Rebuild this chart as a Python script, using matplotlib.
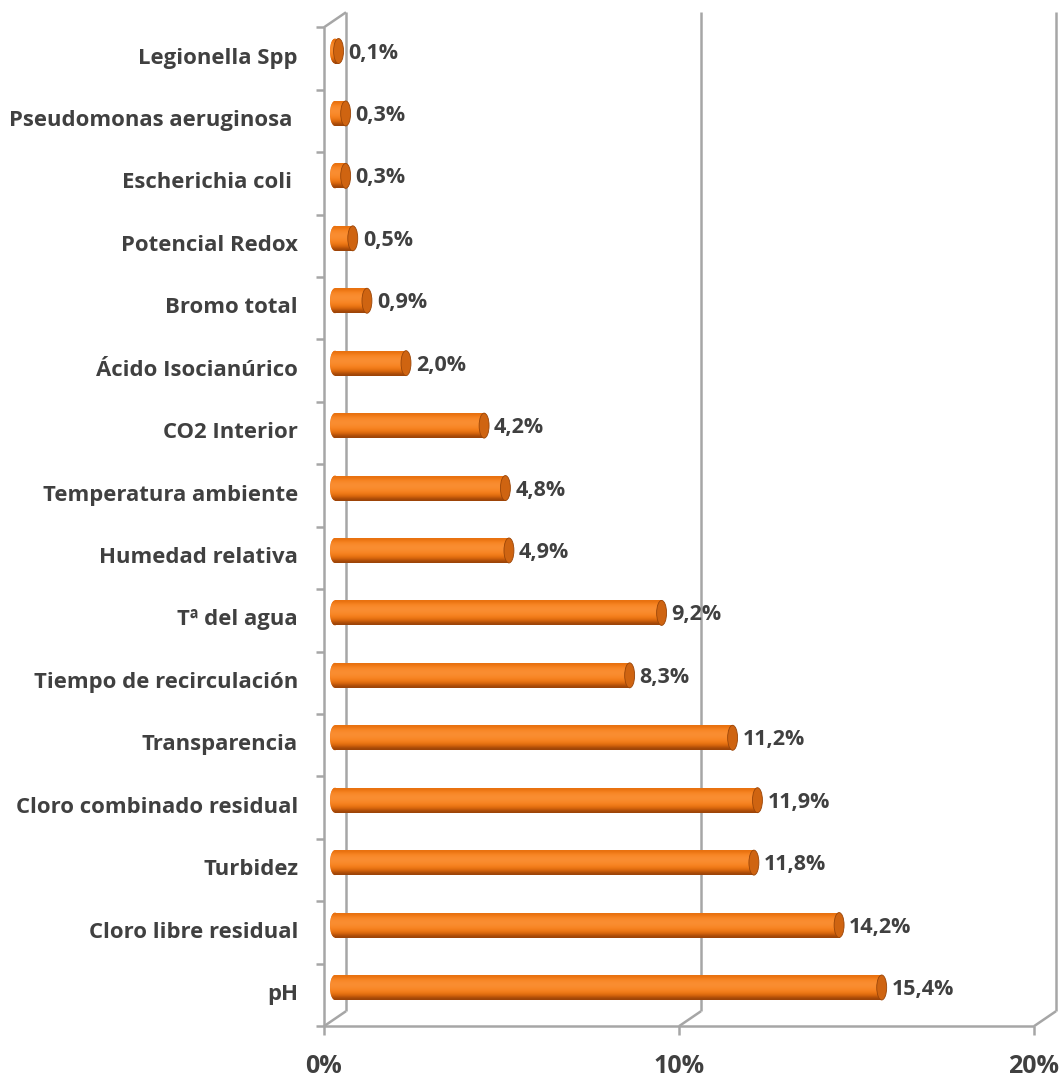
import numpy as np
import matplotlib
matplotlib.use('Agg')
import matplotlib.pyplot as plt
from matplotlib.patches import Ellipse
from matplotlib.colors import LinearSegmentedColormap
from matplotlib.transforms import ScaledTranslation, blended_transform_factory

plt.rcParams['font.family'] = ['Open Sans', 'DejaVu Sans']

# data, top to bottom as in the chart
categories = ['Legionella Spp', 'Pseudomonas aeruginosa ', 'Escherichia coli ', 'Potencial Redox',
              'Bromo total', 'Ácido Isocianúrico', 'CO2 Interior', 'Temperatura ambiente',
              'Humedad relativa', 'Tª del agua', 'Tiempo de recirculación', 'Transparencia',
              'Cloro combinado residual', 'Turbidez', 'Cloro libre residual', 'pH']
values = [0.1, 0.3, 0.3, 0.5, 0.9, 2.0, 4.2, 4.8, 4.9, 9.2, 8.3, 11.2, 11.9, 11.8, 14.2, 15.4]
x_ticks = [0, 10, 20]
x_tick_labels = ['0%', '10%', '20%']

# plot from bottom (pH) to top
cats = categories[::-1]
vals = values[::-1]
ypos = np.arange(len(cats))

W, H = 1064, 1077
px_per_pct = 35.5
x0 = -0.25  # a little room left of zero for the rounded bar ends
fig = plt.figure(figsize=(W / 100, H / 100), dpi=100)
ax = fig.add_axes([(335 + x0 * px_per_pct) / W, 1 - 1018.7 / H,
                   (20 - x0) * px_per_pct / W, (1018.7 - 19.8) / H])
ax.set_xlim(x0, 20)
ax.set_ylim(-0.5, 15.5)
ax.axis('off')

def shift(dx, dy):
    return ScaledTranslation(dx / 100, dy / 100, fig.dpi_scale_trans)

front = ax.transData + shift(-11, -7.5)
back = ax.transData + shift(11, 7.5)
grid_kw = dict(color='#a6a6a6', lw=1.8, clip_on=False, solid_capstyle='butt')

# back wall lines
for xv in x_ticks:
    ax.plot([xv, xv], [-0.5, 15.5], transform=back, **grid_kw)
# floor front edge
ax.plot([0, 20], [-0.5, -0.5], transform=front, **grid_kw)
# front left axis
ax.plot([0, 0], [-0.5, 15.5], transform=front, **grid_kw)

# depth diagonals
d_dx, d_dy = 22, 15
for xv in x_ticks:
    p0 = front.transform((xv, -0.5))
    ax.plot([p0[0], p0[0] + d_dx], [p0[1], p0[1] + d_dy], transform=None, **grid_kw)
p0 = front.transform((0, 15.5))
ax.plot([p0[0], p0[0] + d_dx], [p0[1], p0[1] + d_dy], transform=None, **grid_kw)

# ticks
for k in range(len(cats) + 1):
    p = front.transform((0, k - 0.5))
    ax.plot([p[0] - 8, p[0]], [p[1], p[1]], transform=None, **grid_kw)
for xv in x_ticks:
    p = front.transform((xv, -0.5))
    ax.plot([p[0], p[0]], [p[1] - 9, p[1]], transform=None, **grid_kw)

# cylinder bars
bar_h = 0.4
cap_w = 0.28
grad = np.array([0.55, 0.78, 0.92, 0.97, 0.9, 0.78, 0.62, 0.42, 0.2])[:, None]
cmap = LinearSegmentedColormap.from_list('cyl', ['#5e2803', '#a9490a', '#e46c0a', '#f7821f', '#fa9035'])
for y, v in zip(ypos, vals):
    rect = ax.barh(y, v, height=bar_h, color='#e8711a', lw=0, zorder=3)[0]
    im = ax.imshow(grad, cmap=cmap, vmin=0, vmax=1, aspect='auto', interpolation='bicubic',
                   extent=(0, v, y - bar_h / 2, y + bar_h / 2), origin='upper', zorder=3)
    im.set_clip_path(rect)
    left = Ellipse((0, y), cap_w, bar_h, facecolor='#e8711a', lw=0, zorder=2)
    ax.add_patch(left)
    im2 = ax.imshow(grad, cmap=cmap, vmin=0, vmax=1, aspect='auto', interpolation='bicubic',
                    extent=(-cap_w / 2, cap_w / 2, y - bar_h / 2, y + bar_h / 2), origin='upper', zorder=2)
    im2.set_clip_path(left)
    ax.add_patch(Ellipse((v, y), cap_w, bar_h, facecolor='#cf6411', edgecolor='#9a4508',
                         lw=0.6, zorder=4))
    ax.annotate(f'{v:.1f}%'.replace('.', ','), (v, y), xytext=(10, -2), textcoords='offset pixels',
                ha='left', va='center', fontsize=15.5, fontweight='bold', color='#404040',
                annotation_clip=False)
ax.set_xlim(x0, 20)
ax.set_ylim(-0.5, 15.5)

# category labels
lab_tr = ax.transData + shift(-37, -7)
for y, c in zip(ypos, cats):
    ax.text(0, y, c, transform=lab_tr, ha='right', va='center', fontsize=15.9,
            fontweight='bold', color='#404040')

# x tick labels
for xv, t in zip(x_ticks, x_tick_labels):
    ax.text(xv, -0.5, t, transform=front + shift(0, -40), ha='center', va='center',
            fontsize=18, fontweight='bold', color='#404040')

fig.savefig('out.png', dpi=100)
